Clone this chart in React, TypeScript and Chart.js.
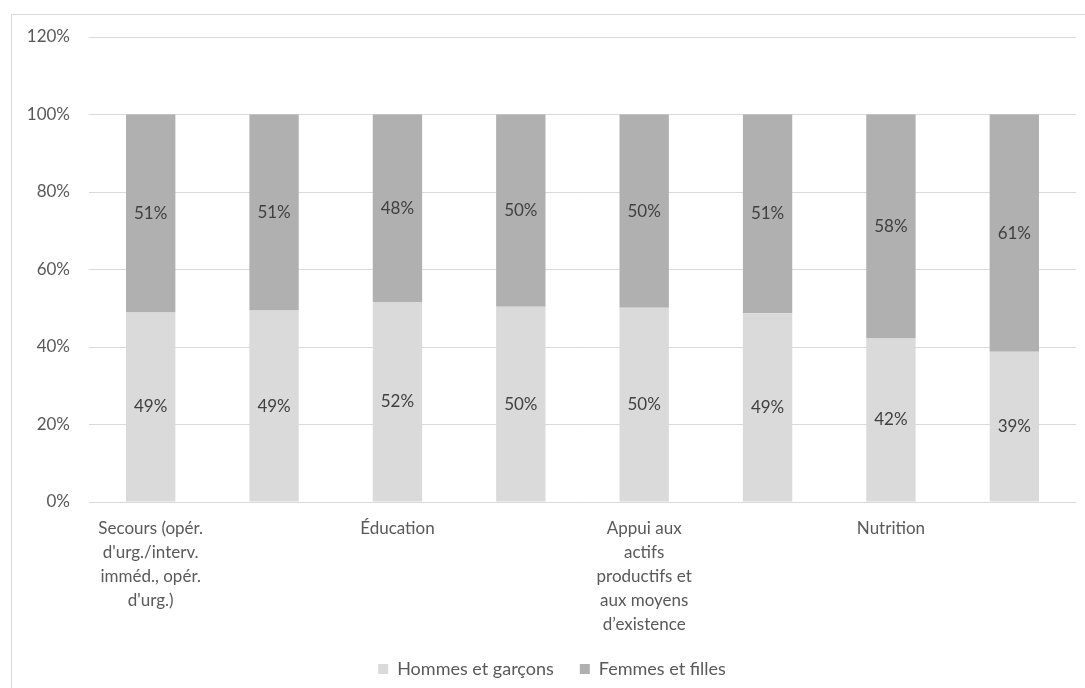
import React, { useEffect, useRef } from "react";
import { Chart, registerables } from "chart.js";

Chart.register(...registerables);

const categories: (string | string[])[] = [
  ["Secours (opér.", "d'urg./interv.", "imméd., opér.", "d'urg.)"],
  "",
  ["Éducation"],
  "",
  ["Appui aux", "actifs", "productifs et", "aux moyens", "d’existence"],
  "",
  ["Nutrition"],
  "",
];

const seriesNames = ["Hommes et garçons", "Femmes et filles"];
const hommes = [48.9, 49.4, 51.6, 50.4, 50.1, 48.7, 42.2, 38.8];
const femmes = [51.1, 50.6, 48.4, 49.6, 49.9, 51.3, 57.8, 61.2];
const colors = ["#DADADA", "#B0B0B0"];
const yTicksMax = 120;
const yStep = 20;

const FONT = "Lato, 'Open Sans', sans-serif";
const TEXT = "#595959";

const bgPlugin = {
  id: "bgBorder",
  beforeDraw(chart: any) {
    const ctx = chart.ctx;
    ctx.save();
    ctx.fillStyle = "#ffffff";
    ctx.fillRect(0, 0, chart.width, chart.height);
    ctx.strokeStyle = "#d9d9d9";
    ctx.lineWidth = 1;
    ctx.strokeRect(11.5, 14.5, chart.width + 20, chart.height + 20);
    ctx.restore();
  },
};

const legendShift = {
  id: "legendShift",
  afterLayout(chart: any) {
    const lg = chart.legend;
    if (!lg) return;
    lg.top -= 15;
    lg.bottom -= 15;
    lg.left += 14;
    lg.right += 14;
  },
};

const labelPlugin = {
  id: "segLabels",
  afterDatasetsDraw(chart: any) {
    const ctx = chart.ctx;
    ctx.save();
    ctx.font = `17px ${FONT}`;
    ctx.fillStyle = "#404040";
    ctx.textAlign = "center";
    ctx.textBaseline = "middle";
    chart.data.datasets.forEach((ds: any, i: number) => {
      const meta = chart.getDatasetMeta(i);
      meta.data.forEach((el: any, j: number) => {
        const v = ds.data[j];
        const p = el.getProps(["x", "y", "base"], true);
        ctx.fillText(Math.round(v) + "%", p.x, (p.y + p.base) / 2);
      });
    });
    ctx.restore();
  },
};

export default function App() {
  const ref = useRef<HTMLCanvasElement>(null);
  useEffect(() => {
    if (!ref.current) return;
    const chart = new Chart(ref.current, {
      type: "bar",
      data: {
        labels: categories,
        datasets: [
          { label: seriesNames[0], data: hommes, backgroundColor: colors[0] },
          { label: seriesNames[1], data: femmes, backgroundColor: colors[1] },
        ],
      },
      options: {
        animation: false,
        responsive: false,
        maintainAspectRatio: false,
        layout: { padding: { top: 37, right: 9, left: 0, bottom: -15 } },
        datasets: { bar: { categoryPercentage: 1, barPercentage: 0.4 } },
        plugins: {
          legend: {
            position: "bottom",
            labels: {
              boxWidth: 10,
              boxHeight: 10,
              color: TEXT,
              font: { family: FONT, size: 18 },
              padding: 26,
            },
          },
          tooltip: { enabled: false },
        },
        scales: {
          x: {
            stacked: true,
            grid: { display: false, drawTicks: false },
            border: { display: false },
            ticks: {
              autoSkip: false,
              maxRotation: 0,
              color: TEXT,
              padding: 15,
              font: { family: FONT, size: 17, lineHeight: 1.41 },
            },
            afterFit(scale: any) {
              scale.height = 147;
            },
          },
          y: {
            stacked: true,
            min: 0,
            max: yTicksMax,
            grid: { color: "#D9D9D9", drawTicks: false },
            border: { display: false },
            ticks: {
              stepSize: yStep,
              color: TEXT,
              padding: 19,
              font: { family: FONT, size: 17 },
              callback: (v: any) => v + "%",
            },
            afterFit(scale: any) {
              scale.width = 89;
            },
          },
        },
      },
      plugins: [bgPlugin, legendShift, labelPlugin],
    });
    return () => chart.destroy();
  }, []);
  return (
    <div style={{ position: "fixed", left: 0, top: 0, width: 1085, height: 688 }}>
      <canvas ref={ref} width={1085} height={688} style={{ width: 1085, height: 688 }} />
    </div>
  );
}
